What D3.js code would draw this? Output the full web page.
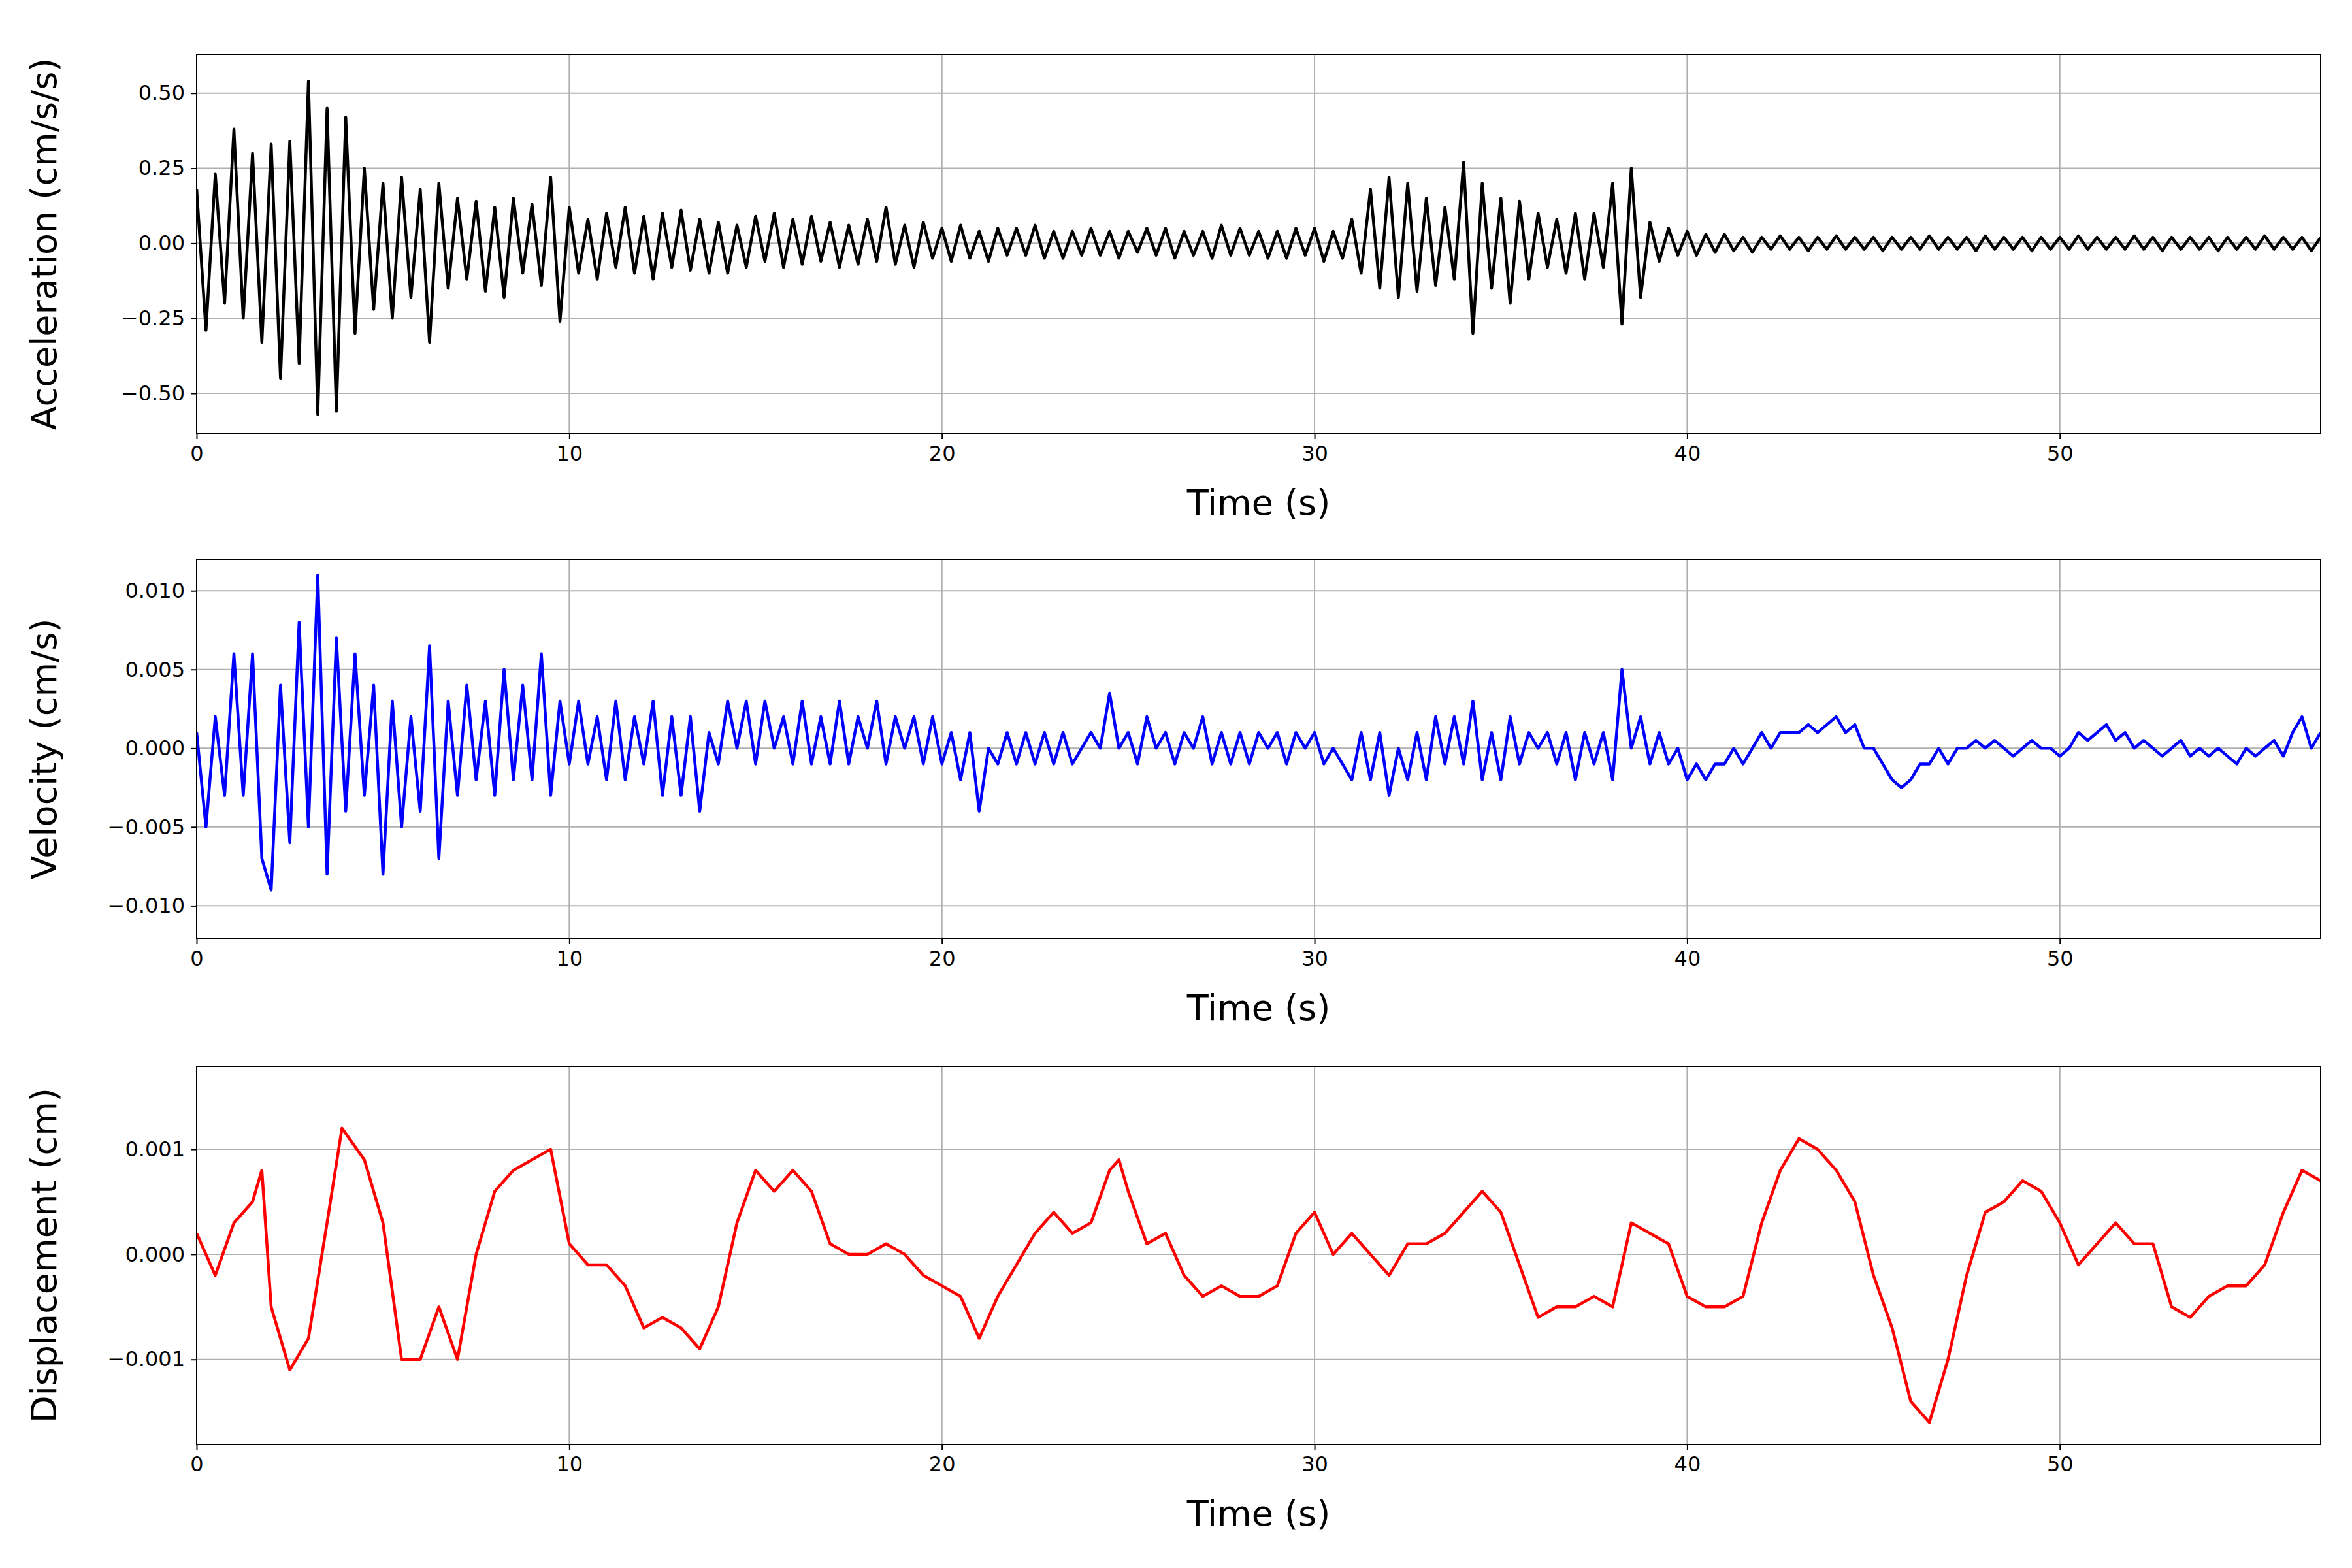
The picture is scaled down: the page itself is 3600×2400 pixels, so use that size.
<!DOCTYPE html>
<html><head><meta charset="utf-8">
<script src="https://cdn.jsdelivr.net/npm/d3@7"></script>
<style>body{margin:0;background:#fff}svg{font-family:"DejaVu Sans",sans-serif}</style>
</head><body><svg id="chart" width="3600" height="2400"></svg>
<script>
'use strict';

var accStep = 0.25;
var accVals = [
 0.18,-0.29,0.23,-0.2, 0.38,-0.25,0.3,-0.33, 0.33,-0.45,0.34,-0.4, 0.54,-0.57,0.45,-0.56,
 0.42,-0.3,0.25,-0.22, 0.2,-0.25,0.22,-0.18, 0.18,-0.33,0.2,-0.15, 0.15,-0.12,0.14,-0.16,
 0.12,-0.18,0.15,-0.1, 0.13,-0.14,0.22,-0.26, 0.12,-0.1,0.08,-0.12, 0.1,-0.08,0.12,-0.1,
 0.09,-0.12,0.1,-0.08, 0.11,-0.09,0.08,-0.1, 0.07,-0.1,0.06,-0.08, 0.09,-0.06,0.1,-0.08,
 0.08,-0.07,0.09,-0.06, 0.07,-0.08,0.06,-0.07, 0.08,-0.06,0.12,-0.07, 0.06,-0.08,0.07,-0.05,
 0.05,-0.06,0.06,-0.05, 0.04,-0.06,0.05,-0.04, 0.05,-0.04,0.06,-0.05, 0.04,-0.05,0.04,-0.04,
 0.05,-0.04,0.04,-0.05, 0.04,-0.03,0.05,-0.04, 0.05,-0.05,0.04,-0.04, 0.04,-0.05,0.06,-0.04,
 0.05,-0.04,0.04,-0.05, 0.04,-0.05,0.05,-0.04, 0.05,-0.06,0.04,-0.05, 0.08,-0.1,0.18,-0.15,
 0.22,-0.18,0.2,-0.16, 0.15,-0.14,0.12,-0.12, 0.27,-0.3,0.2,-0.15, 0.15,-0.2,0.14,-0.12,
 0.1,-0.08,0.08,-0.1, 0.1,-0.12,0.1,-0.08, 0.2,-0.27,0.25,-0.18, 0.07,-0.06,0.05,-0.04,
 0.04,-0.04,0.03,-0.03, 0.03,-0.025,0.02,-0.03, 0.02,-0.02,0.025,-0.02, 0.02,-0.025,0.02,-0.02,
 0.025,-0.02,0.02,-0.02, 0.02,-0.025,0.02,-0.02, 0.02,-0.02,0.025,-0.02, 0.02,-0.02,0.02,-0.025,
 0.025,-0.02,0.02,-0.02, 0.02,-0.025,0.02,-0.02, 0.02,-0.02,0.025,-0.02, 0.02,-0.02,0.02,-0.02,
 0.025,-0.02,0.02,-0.025, 0.02,-0.02,0.02,-0.02, 0.02,-0.025,0.02,-0.02, 0.02,-0.02,0.025,-0.02,
 0.02,-0.02,0.02,-0.025, 0.02
];

// velocity, cm/s, every 0.25 s
var velStep = 0.25;
var velVals = [
 0.001,-0.005,0.002,-0.003, 0.006,-0.003,0.006,-0.007, -0.009,0.004,-0.006,0.008,
 -0.005,0.011,-0.008,0.007, -0.004,0.006,-0.003,0.004, -0.008,0.003,-0.005,0.002,
 -0.004,0.0065,-0.007,0.003, -0.003,0.004,-0.002,0.003, -0.003,0.005,-0.002,0.004,
 -0.002,0.006,-0.003,0.003, -0.001,0.003,-0.001,0.002, -0.002,0.003,-0.002,0.002,
 -0.001,0.003,-0.003,0.002, -0.003,0.002,-0.004,0.001, -0.001,0.003,0.0,0.003,
 -0.001,0.003,0.0,0.002, -0.001,0.003,-0.001,0.002, -0.001,0.003,-0.001,0.002,
 0.0,0.003,-0.001,0.002, 0.0,0.002,-0.001,0.002, -0.001,0.001,-0.002,0.001,
 -0.004,0.0,-0.001,0.001, -0.001,0.001,-0.001,0.001, -0.001,0.001,-0.001,0.0,
 0.001,0.0,0.0035,0.0, 0.001,-0.001,0.002,0.0, 0.001,-0.001,0.001,0.0,
 0.002,-0.001,0.001,-0.001, 0.001,-0.001,0.001,0.0, 0.001,-0.001,0.001,0.0,
 0.001,-0.001,0.0,-0.001, -0.002,0.001,-0.002,0.001, -0.003,0.0,-0.002,0.001,
 -0.002,0.002,-0.001,0.002, -0.001,0.003,-0.002,0.001, -0.002,0.002,-0.001,0.001,
 0.0,0.001,-0.001,0.001, -0.002,0.001,-0.001,0.001, -0.002,0.005,0.0,0.002,
 -0.001,0.001,-0.001,0.0, -0.002,-0.001,-0.002,-0.001, -0.001,0.0,-0.001,0.0,
 0.001,0.0,0.001,0.001, 0.001,0.0015,0.001,0.0015, 0.002,0.001,0.0015,0.0,
 0.0,-0.001,-0.002,-0.0025, -0.002,-0.001,-0.001,0.0, -0.001,0.0,0.0,0.0005,
 0.0,0.0005,0.0,-0.0005, 0.0,0.0005,0.0,0.0, -0.0005,0.0,0.001,0.0005,
 0.001,0.0015,0.0005,0.001, 0.0,0.0005,0.0,-0.0005, 0.0,0.0005,-0.0005,0.0,
 -0.0005,0.0,-0.0005,-0.001, 0.0,-0.0005,0.0,0.0005, -0.0005,0.001,0.002,0.0,
 0.001
];

// displacement, cm
var dispT = [0,0.5,1,1.5,1.75,2,2.5,3,3.5,3.9,4.5,5,5.5,6,6.5,7,7.5,8,8.5,9,9.5,10,10.5,11,11.5,12,12.5,13,13.5,14,14.5,15,15.5,16,16.5,17,17.5,18,18.5,19,19.5,20,20.5,21,21.5,22,22.5,23,23.5,24,24.5,24.75,25,25.5,26,26.5,27,27.5,28,28.5,29,29.5,30,30.5,31,31.5,32,32.5,33,33.5,34,34.5,35,35.5,36,36.5,37,37.5,38,38.5,39,39.5,40,40.5,41,41.5,42,42.5,43,43.5,44,44.5,45,45.5,46,46.5,47,47.5,48,48.5,49,49.5,50,50.5,51,51.5,52,52.5,53,53.5,54,54.5,55,55.5,56,56.5,57];
var dispV = [0.0002,-0.0002,0.0003,0.0005,0.0008,-0.0005,-0.0011,-0.0008,0.0003,0.0012,0.0009,0.0003,-0.001,-0.001,-0.0005,-0.001,0.0,0.0006,0.0008,0.0009,0.001,0.0001,-0.0001,-0.0001,-0.0003,-0.0007,-0.0006,-0.0007,-0.0009,-0.0005,0.0003,0.0008,0.0006,0.0008,0.0006,0.0001,0.0,0.0,0.0001,0.0,-0.0002,-0.0003,-0.0004,-0.0008,-0.0004,-0.0001,0.0002,0.0004,0.0002,0.0003,0.0008,0.0009,0.0006,0.0001,0.0002,-0.0002,-0.0004,-0.0003,-0.0004,-0.0004,-0.0003,0.0002,0.0004,0.0,0.0002,0.0,-0.0002,0.0001,0.0001,0.0002,0.0004,0.0006,0.0004,-0.0001,-0.0006,-0.0005,-0.0005,-0.0004,-0.0005,0.0003,0.0002,0.0001,-0.0004,-0.0005,-0.0005,-0.0004,0.0003,0.0008,0.0011,0.001,0.0008,0.0005,-0.0002,-0.0007,-0.0014,-0.0016,-0.001,-0.0002,0.0004,0.0005,0.0007,0.0006,0.0003,-0.0001,0.0001,0.0003,0.0001,0.0001,-0.0005,-0.0006,-0.0004,-0.0003,-0.0003,-0.0001,0.0004,0.0008,0.0007];

var xTicks = [0,10,20,30,40,50];

var panels = [
  {top:83, bottom:664, color:"#000", label:"Acceleration (cm/s/s)", yDom:[-0.635,0.63],
   ticks:[-0.5,-0.25,0,0.25,0.5], fmt:".2f",
   data: accVals.map(function(v,i){return [i*accStep, v];})},
  {top:856, bottom:1437, color:"#0000ff", label:"Velocity (cm/s)", yDom:[-0.0121,0.012],
   ticks:[-0.01,-0.005,0,0.005,0.01], fmt:".3f",
   data: velVals.map(function(v,i){return [i*velStep, v];})},
  {top:1632, bottom:2211, color:"#ff0000", label:"Displacement (cm)", yDom:[-0.00181,0.00179],
   ticks:[-0.001,0,0.001], fmt:".3f",
   data: dispT.map(function(t,i){return [t, dispV[i]];})}
];

var svg = d3.select("#chart");
var left = 301, right = 3552;
var x = d3.scaleLinear().domain([0,57]).range([left,right]);

panels.forEach(function(p){
  var y = d3.scaleLinear().domain(p.yDom).range([p.bottom,p.top]);
  var g = svg.append("g");

  // grid
  g.selectAll(".gx").data(xTicks).enter().append("line")
    .attr("x1",function(d){return x(d);}).attr("x2",function(d){return x(d);})
    .attr("y1",p.top).attr("y2",p.bottom).attr("stroke","#b0b0b0").attr("stroke-width",2);
  g.selectAll(".gy").data(p.ticks).enter().append("line")
    .attr("x1",left).attr("x2",right)
    .attr("y1",function(d){return y(d);}).attr("y2",function(d){return y(d);})
    .attr("stroke","#b0b0b0").attr("stroke-width",2);

  var clip = "clip" + p.top;
  svg.append("clipPath").attr("id",clip).append("rect")
    .attr("x",left).attr("y",p.top).attr("width",right-left).attr("height",p.bottom-p.top);

  g.append("path").datum(p.data)
    .attr("clip-path","url(#"+clip+")")
    .attr("fill","none").attr("stroke",p.color).attr("stroke-width",4.5)
    .attr("stroke-linejoin","round")
    .attr("d", d3.line().x(function(d){return x(d[0]);}).y(function(d){return y(d[1]);}));

  var fmt = d3.format(p.fmt);
  var xa = g.append("g").attr("transform","translate(0,"+p.bottom+")")
    .call(d3.axisBottom(x).tickValues(xTicks).tickSize(8).tickPadding(10));
  var ya = g.append("g").attr("transform","translate("+left+",0)")
    .call(d3.axisLeft(y).tickValues(p.ticks).tickSize(8).tickPadding(10)
      .tickFormat(function(d){return fmt(d).replace("-","\u2212");}));
  [xa,ya].forEach(function(a){
    a.select(".domain").remove();
    a.selectAll("line").attr("stroke","#000").attr("stroke-width",2);
    a.selectAll("text").attr("font-size",32).attr("font-family","DejaVu Sans").attr("fill","#000");
  });

  g.append("rect").attr("x",left).attr("y",p.top).attr("width",right-left).attr("height",p.bottom-p.top)
    .attr("fill","none").attr("stroke","#000").attr("stroke-width",2);

  g.append("text").attr("x",(left+right)/2).attr("y",p.bottom+124)
    .attr("text-anchor","middle").attr("font-size",54).text("Time (s)");
  g.append("text").attr("transform","translate(86,"+((p.top+p.bottom)/2)+") rotate(-90)")
    .attr("text-anchor","middle").attr("font-size",54).text(p.label);
});
</script></body></html>
